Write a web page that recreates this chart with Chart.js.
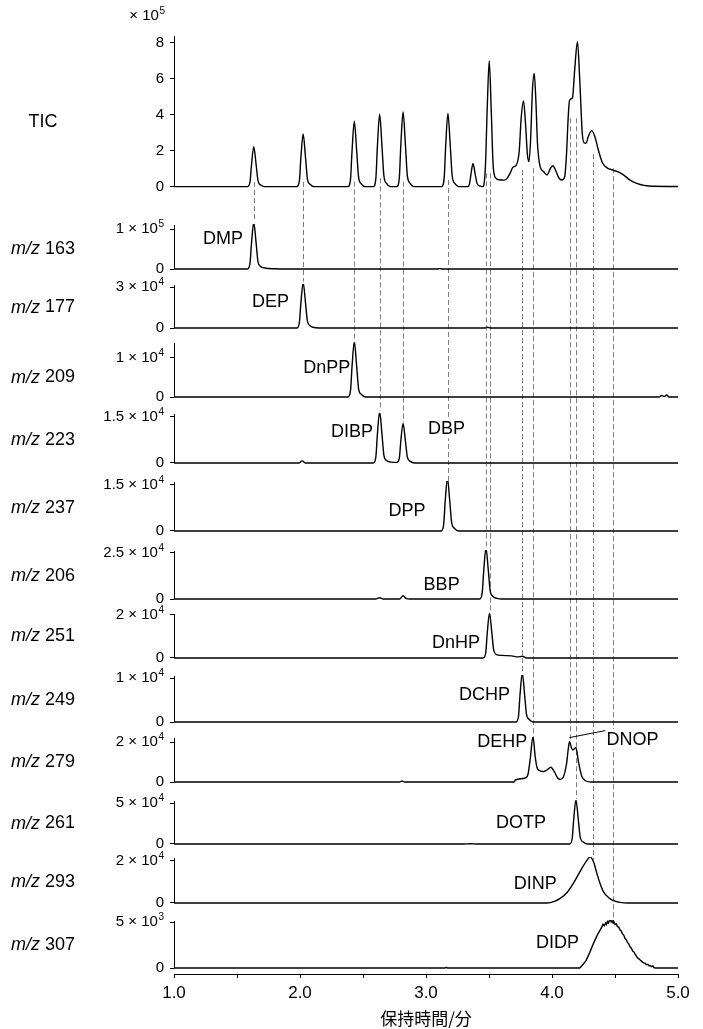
<!DOCTYPE html>
<html>
<head>
<meta charset="utf-8">
<title>クロマトグラム</title>
<script src="https://cdn.jsdelivr.net/npm/chart.js@4.4.1/dist/chart.umd.min.js"></script>
<style>
  html, body { margin: 0; padding: 0; background: #fff; }
  #wrap { position: relative; width: 703px; height: 1029px; }
</style>
</head>
<body>
<div id="wrap"><canvas id="chrom"></canvas></div>
<script>
/* traces: [retention time (min), intensity] */

// TIC
var tic = [[1.0,0.02e5],
  [1.583,0.02e5],[1.603,0.27e5],[1.615,1.23e5],[1.633,2.24e5],[1.652,1.23e5],[1.667,0.34e5],[1.688,0.11e5],[1.718,0.02e5],
  [1.975,0.02e5],[1.995,0.35e5],[2.007,1.62e5],[2.025,2.94e5],[2.044,1.62e5],[2.059,0.44e5],[2.08,0.15e5],[2.11,0.02e5],
  [2.381,0.02e5],[2.401,0.44e5],[2.413,2.0e5],[2.431,3.65e5],[2.45,2.0e5],[2.465,0.55e5],[2.486,0.18e5],[2.516,0.02e5],
  [2.582,0.02e5],[2.602,0.48e5],[2.614,2.22e5],[2.632,4.04e5],[2.651,2.22e5],[2.666,0.61e5],[2.687,0.2e5],[2.717,0.02e5],
  [2.768,0.02e5],[2.788,0.5e5],[2.8,2.29e5],[2.818,4.17e5],[2.837,2.29e5],[2.852,0.63e5],[2.873,0.21e5],[2.903,0.02e5],
  [3.124,0.02e5],[3.144,0.49e5],[3.156,2.25e5],[3.174,4.09e5],[3.193,2.25e5],[3.208,0.61e5],[3.229,0.2e5],[3.259,0.02e5],
  [3.33,0.02e5],[3.345,0.16e5],[3.357,0.72e5],[3.373,1.31e5],[3.39,0.72e5],[3.405,0.2e5],[3.425,0.06e5],[3.45,0.02e5],
  [3.458,0.08e5],[3.472,1.2e5],[3.486,4.4e5],[3.502,7.02e5],[3.518,4.2e5],[3.533,1.2e5],[3.553,0.5e5],[3.58,0.4e5],[3.62,0.38e5],[3.64,0.45e5],
  [3.67,0.8e5],[3.69,1.1e5],[3.715,1.2e5],[3.74,2.0e5],[3.755,3.8e5],[3.774,4.78e5],[3.79,3.5e5],[3.805,1.8e5],[3.817,1.41e5],
  [3.83,2.6e5],[3.845,5.4e5],[3.859,6.31e5],[3.872,4.8e5],[3.885,2.4e5],[3.906,1.13e5],[3.935,0.85e5],[3.96,0.67e5],
  [3.985,1.0e5],[4.007,1.18e5],[4.03,0.9e5],[4.055,0.5e5],[4.078,0.39e5],[4.1,0.55e5],[4.115,1.8e5],[4.128,3.8e5],[4.139,4.8e5],
  [4.163,4.98e5],[4.18,6.5e5],[4.202,8.07e5],[4.22,6.0e5],[4.24,3.0e5],[4.255,2.45e5],[4.27,2.43e5],[4.29,2.85e5],[4.316,3.13e5],
  [4.34,2.8e5],[4.37,2.0e5],[4.4,1.35e5],[4.44,1.05e5],[4.483,0.94e5],[4.53,0.82e5],[4.567,0.67e5],[4.62,0.38e5],[4.673,0.2e5],
  [4.73,0.09e5],[4.8,0.04e5],[5.0,0.03e5]];

var mz163 = [[1.0,0],[1.583,0],[1.603,0.14e5],[1.615,0.64e5],[1.633,1.16e5],[1.652,0.64e5],[1.667,0.17e5],[1.688,0.06e5],
  [1.72,0.025e5],[1.8,0.005e5],[1.9,0],[3.09,0],[3.11,0.01e5],[3.13,0],[5.0,0]];

var mz177 = [[1.0,0],[1.975,0],[1.995,0.4e4],[2.007,1.82e4],[2.025,3.31e4],[2.044,1.82e4],[2.059,0.5e4],[2.08,0.17e4],
  [2.11,0.04e4],[2.2,0],[3.47,0],[3.49,0.06e4],[3.51,0],[5.0,0]];

var mz209 = [[1.0,0],[2.381,0],[2.401,0.17e4],[2.413,0.78e4],[2.431,1.42e4],[2.45,0.78e4],[2.465,0.21e4],[2.486,0.07e4],
  [2.52,0],[4.85,0],[4.87,0.04e4],[4.89,0.01e4],[4.91,0.05e4],[4.93,0],[5.0,0]];

var mz223 = [[1.0,0],[1.99,0],[2.017,0.07e4],[2.045,0],[2.582,0],[2.602,0.2e4],[2.614,0.92e4],[2.632,1.67e4],[2.651,0.92e4],
  [2.666,0.25e4],[2.687,0.08e4],[2.72,0.03e4],[2.768,0.02e4],[2.788,0.15e4],[2.8,0.71e4],[2.818,1.29e4],[2.837,0.71e4],
  [2.852,0.19e4],[2.873,0.06e4],[2.91,0],[5.0,0]];

var mz237 = [[1.0,0],[3.12,0],[3.14,0.21e4],[3.152,0.95e4],[3.17,1.72e4],[3.189,0.95e4],[3.204,0.26e4],[3.225,0.09e4],
  [3.26,0],[5.0,0]];

var mz206 = [[1.0,0],[2.6,0],[2.632,0.07e4],[2.66,0],[2.79,0],[2.818,0.18e4],[2.845,0.02e4],[2.87,0],[3.426,0],[3.446,0.33e4],
  [3.458,1.52e4],[3.476,2.76e4],[3.495,1.52e4],[3.51,0.41e4],[3.531,0.14e4],[3.565,0.03e4],[3.6,0],[5.0,0]];

var mz251 = [[1.0,0],[3.454,0],[3.474,0.25e4],[3.486,1.14e4],[3.504,2.08e4],[3.523,1.14e4],[3.538,0.35e4],[3.56,0.16e4],
  [3.6,0.12e4],[3.68,0.1e4],[3.73,0.05e4],[3.765,0.08e4],[3.8,0],[5.0,0]];

var mz249 = [[1.0,0],[3.714,0],[3.734,0.13e4],[3.746,0.61e4],[3.764,1.11e4],[3.783,0.61e4],[3.798,0.17e4],[3.819,0.06e4],
  [3.85,0],[5.0,0]];

var mz279 = [[1.0,0],[2.79,0],[2.81,0.05e4],[2.83,0],[3.7,0],[3.708,0.1e4],[3.787,0.2e4],[3.81,0.4e4],[3.828,1.2e4],[3.849,2.27e4],
  [3.866,1.3e4],[3.88,0.75e4],[3.893,0.6e4],[3.933,0.52e4],[3.96,0.6e4],[3.991,0.74e4],[4.02,0.5e4],[4.045,0.2e4],[4.065,0.13e4],
  [4.09,0.25e4],[4.115,0.9e4],[4.13,1.7e4],[4.139,2.02e4],[4.155,1.7e4],[4.166,1.6e4],[4.19,1.72e4],[4.21,1.0e4],[4.237,0.27e4],
  [4.27,0.05e4],[4.31,0],[5.0,0]];

var mz261 = [[1.0,0],[3.3,0],[3.35,0.02e4],[3.4,0],[4.14,0],[4.16,0.64e4],[4.172,2.95e4],[4.19,5.37e4],[4.209,2.95e4],
  [4.224,0.81e4],[4.245,0.27e4],[4.28,0],[5.0,0]];

var mz293 = [[1.0,0],[3.96,0],[4.02,0.08e4],[4.065,0.22e4],[4.12,0.5e4],[4.17,0.94e4],[4.237,1.65e4],[4.28,2.05e4],[4.303,2.2e4],
  [4.33,1.95e4],[4.356,1.41e4],[4.38,0.95e4],[4.408,0.54e4],[4.45,0.25e4],[4.488,0.11e4],[4.54,0.03e4],[4.6,0],[5.0,0]];

var mz307 = [[1.0,0],[3.15,0],[3.161,0.07e3],[3.17,0],[4.22,0],[4.237,0.25e3],[4.27,0.8e3],[4.3,1.7e3],[4.329,2.68e3],
  [4.36,3.6e3],[4.385,4.2e3],[4.395,4.45e3],[4.405,4.75e3],[4.415,4.6e3],[4.425,4.9e3],[4.432,4.75e3],[4.44,5.05e3],
  [4.447,4.9e3],[4.455,5.15e3],[4.462,5.25e3],[4.47,5.0e3],[4.477,5.15e3],[4.485,4.9e3],[4.492,5.0e3],[4.5,4.75e3],
  [4.51,4.8e3],[4.52,4.5e3],[4.53,4.45e3],[4.541,4.13e3],[4.55,4.0e3],[4.56,3.7e3],[4.57,3.55e3],[4.58,3.2e3],[4.59,3.05e3],
  [4.6,2.75e3],[4.61,2.6e3],[4.62,2.3e3],[4.63,2.15e3],[4.64,1.85e3],[4.65,1.75e3],[4.66,1.5e3],[4.67,1.3e3],[4.68,1.1e3],
  [4.69,1.0e3],[4.7,0.87e3],[4.71,0.75e3],[4.72,0.62e3],[4.73,0.55e3],[4.74,0.5e3],[4.75,0.35e3],[4.76,0.4e3],[4.77,0.25e3],
  [4.78,0.28e3],[4.79,0.15e3],[4.8,0.22e3],[4.81,0.05e3],[4.82,0],[5.0,0]];

// panels top to bottom
var panelNames = ["TIC", "163", "177", "209", "223", "237", "206", "251", "249", "279", "261", "293", "307"];
var traces = [tic, mz163, mz177, mz209, mz223, mz237, mz206, mz251, mz249, mz279, mz261, mz293, mz307];
var topTicks = [8e5, 1e5, 3e4, 1e4, 1.5e4, 1.5e4, 2.5e4, 2e4, 1e4, 2e4, 5e4, 2e4, 5e3];
var ticTicks = [0, 2e5, 4e5, 6e5, 8e5];
var xTicks = [1.0, 2.0, 3.0, 4.0, 5.0];

// axis ranges and heights of each strip
var axisMax = [8.444e5, 1.125e5, 3.22e4, 1.41e4, 1.63e4, 1.63e4, 2.66e4, 2.09e4, 1.07e4, 2.25e4, 5.37e4, 2.19e4, 5.22e3];
var axisMin = [-2.056e5, -0.375e5, -1.02e4, -0.41e4, -0.587e4, -0.62e4, -0.76e4, -0.79e4, -0.34e4, -0.9e4, -1.59e4, -0.81e4, -0.65e3];
var stripHeight = [189, 60, 58, 71, 68, 69, 63, 62, 62, 63, 57, 63, 54];

// compound names beside the peaks
var peakLabels = [
  {text: "DMP", panel: 1, t: 1.389, v: 0.78e5},
  {text: "DEP", panel: 2, t: 1.765, v: 1.98e4},
  {text: "DnPP", panel: 3, t: 2.212, v: 0.76e4},
  {text: "DIBP", panel: 4, t: 2.413, v: 1.05e4},
  {text: "DBP", panel: 4, t: 3.163, v: 1.13e4},
  {text: "DPP", panel: 5, t: 2.849, v: 0.68e4},
  {text: "BBP", panel: 6, t: 3.124, v: 0.82e4},
  {text: "DnHP", panel: 7, t: 3.239, v: 0.76e4},
  {text: "DCHP", panel: 8, t: 3.464, v: 0.64e4},
  {text: "DEHP", panel: 9, t: 3.605, v: 2.05e4},
  {text: "DNOP", panel: 9, t: 4.639, v: 2.15e4},
  {text: "DOTP", panel: 10, t: 3.754, v: 2.65e4},
  {text: "DINP", panel: 11, t: 3.867, v: 0.97e4},
  {text: "DIDP", panel: 12, t: 4.043, v: 2.86e3}
];

// dashed guides: from the TIC down to the peak in a strip
var guides = [
  {t: 1.633, from: 0.28e5, panel: 1},
  {t: 2.025, from: 0.28e5, panel: 2},
  {t: 2.431, from: 0.3e5, panel: 3},
  {t: 2.632, from: 0.48e5, panel: 4},
  {t: 2.818, from: 0.3e5, panel: 4},
  {t: 3.174, from: 0.39e5, panel: 5},
  {t: 3.476, from: 0.76e5, panel: 6},
  {t: 3.504, from: 0.76e5, panel: 7},
  {t: 3.764, from: 0.94e5, panel: 8},
  {t: 3.853, from: 1.04e5, panel: 9},
  {t: 4.144, from: 3.82e5, panel: 9},
  {t: 4.19, from: 3.82e5, panel: 10},
  {t: 4.329, from: 1.83e5, panel: 11},
  {t: 4.483, from: 1.04e5, panel: 12}
];

// leader line for DNOP
var dnopLeader = {panel: 9, from: [4.139, 2.22e4], to: [4.422, 2.57e4]};

var FONT = "'Liberation Sans', Arial, sans-serif";

function valueAt(data, t) {
  for (var i = 1; i < data.length; i++) {
    if (data[i][0] >= t) {
      var a = data[i - 1], b = data[i];
      return a[1] + (b[1] - a[1]) * (t - a[0]) / (b[0] - a[0]);
    }
  }
  return 0;
}

// "m × 10" with a raised exponent, right edge at xr
function drawSci(ctx, mant, exp, xr, y) {
  ctx.textBaseline = "middle";
  ctx.textAlign = "left";
  ctx.font = "10px " + FONT;
  var we = ctx.measureText(exp).width;
  ctx.fillText(exp, xr - we, y - 5);
  ctx.font = "15px " + FONT;
  ctx.textAlign = "right";
  ctx.fillText((mant === "" ? "" : mant + " ") + "\u00d7 10", xr - we - 0.5, y);
}

var scales = {
  x: {
    type: "linear", min: 1, max: 5,
    afterBuildTicks: function (s) {
      var tk = [];
      for (var i = 0; i < xTicks.length; i++) {
        tk.push({value: xTicks[i]});
        if (i < xTicks.length - 1) tk.push({value: xTicks[i] + 0.5});
      }
      s.ticks = tk;
    },
    afterFit: function (s) { s.height = 55; },
    ticks: {
      autoSkip: false, maxRotation: 0, padding: 5, color: "#000",
      font: {size: 17, family: FONT},
      callback: function (v) { return Number.isInteger(v) ? v.toFixed(1) : ""; }
    },
    grid: {drawOnChartArea: false, drawTicks: true, tickLength: 4, color: "#000"},
    border: {display: true, color: "#000", width: 1},
    title: {
      display: true, text: "保持時間/分", color: "#000",
      font: {size: 17, family: "'Noto Sans CJK JP', sans-serif"},
      padding: {top: 0, bottom: 0}
    }
  }
};

panelNames.forEach(function (name, i) {
  scales["y" + i] = {
    type: "linear", position: "left", stack: "strips",
    stackWeight: stripHeight[i], weight: 20 - i,
    min: axisMin[i], max: axisMax[i],
    afterBuildTicks: function (s) {
      var vals = i === 0 ? ticTicks : [0, topTicks[i]];
      s.ticks = vals.map(function (v) { return {value: v}; });
    },
    afterFit: function (s) { s.width = 174; },
    ticks: {display: false},
    grid: {drawOnChartArea: false, drawTicks: true, tickLength: 4, color: "#000"},
    border: {display: false}
  };
});

var datasets = traces.map(function (tr, i) {
  return {
    label: panelNames[i],
    data: tr,
    yAxisID: "y" + i,
    borderColor: "#000",
    borderWidth: 1.4,
    pointRadius: 0,
    fill: false,
    cubicInterpolationMode: i === 12 ? "default" : "monotone",
    tension: 0
  };
});

// guides and peak names go under the traces
var underlay = {
  id: "underlay",
  beforeDatasetsDraw: function (chart) {
    var ctx = chart.ctx, x = chart.scales.x;
    ctx.save();
    ctx.strokeStyle = "#7f7f7f";
    ctx.lineWidth = 1;
    ctx.setLineDash([5, 3]);
    guides.forEach(function (g) {
      var px = Math.round(x.getPixelForValue(g.t)) + 0.5;
      var ys = chart.scales.y0.getPixelForValue(g.from);
      var ye = chart.scales["y" + g.panel].getPixelForValue(valueAt(traces[g.panel], g.t)) - 1;
      ctx.beginPath();
      ctx.moveTo(px, ys);
      ctx.lineTo(px, ye);
      ctx.stroke();
    });
    ctx.setLineDash([]);
    ctx.font = "18px " + FONT;
    ctx.textAlign = "center";
    ctx.textBaseline = "middle";
    peakLabels.forEach(function (l) {
      var px = x.getPixelForValue(l.t);
      var py = chart.scales["y" + l.panel].getPixelForValue(l.v);
      var w = ctx.measureText(l.text).width;
      ctx.fillStyle = "#fff";
      ctx.fillRect(px - w / 2 - 1, py - 10, w + 2, 20);
      ctx.fillStyle = "#000";
      ctx.fillText(l.text, px, py + 1);
    });
    ctx.restore();
  },
  afterDatasetsDraw: function (chart) {
    var ctx = chart.ctx, x = chart.scales.x;
    ctx.save();
    // vertical axis of each strip, from its top down to zero
    ctx.strokeStyle = "#000";
    ctx.lineWidth = 1;
    panelNames.forEach(function (n, i) {
      var s = chart.scales["y" + i];
      var ax = Math.round(chart.chartArea.left) + 0.5;
      ctx.beginPath();
      ctx.moveTo(ax, s.top + 1);
      ctx.lineTo(ax, s.getPixelForValue(0));
      ctx.stroke();
    });
    // DNOP leader
    var ys = chart.scales["y" + dnopLeader.panel];
    ctx.beginPath();
    ctx.moveTo(x.getPixelForValue(dnopLeader.from[0]), ys.getPixelForValue(dnopLeader.from[1]));
    ctx.lineTo(x.getPixelForValue(dnopLeader.to[0]), ys.getPixelForValue(dnopLeader.to[1]));
    ctx.stroke();
    ctx.restore();
  },
  afterDraw: function (chart) {
    var ctx = chart.ctx;
    var xr = chart.chartArea.left - 10;
    ctx.save();
    ctx.fillStyle = "#000";
    ctx.textBaseline = "middle";
    panelNames.forEach(function (name, i) {
      var s = chart.scales["y" + i];
      // tick labels
      if (i === 0) {
        ctx.font = "15px " + FONT;
        ctx.textAlign = "right";
        ticTicks.forEach(function (v) {
          ctx.fillText(String(v / 1e5), xr, s.getPixelForValue(v));
        });
      } else {
        ctx.font = "15px " + FONT;
        ctx.textAlign = "right";
        ctx.fillText("0", xr, s.getPixelForValue(0));
        var e = Math.floor(Math.log10(topTicks[i]) + 1e-9);
        var m = Math.round(topTicks[i] / Math.pow(10, e) * 10) / 10;
        drawSci(ctx, String(m), String(e), xr, s.getPixelForValue(topTicks[i]));
      }
      // strip names on the left
      var py = i === 0 ? s.getPixelForValue(3.6e5) : s.getPixelForValue(topTicks[i] / 2);
      var cx = 43;
      if (i === 0) {
        ctx.font = "18px " + FONT;
        ctx.textAlign = "center";
        ctx.fillText(name, cx, py);
      } else {
        ctx.font = "italic 18px " + FONT;
        var w1 = ctx.measureText("m/z").width;
        ctx.font = "18px " + FONT;
        var w2 = ctx.measureText(" " + name).width;
        var left = cx - (w1 + w2) / 2;
        ctx.textAlign = "left";
        ctx.font = "italic 18px " + FONT;
        ctx.fillText("m/z", left, py);
        ctx.font = "18px " + FONT;
        ctx.fillText(" " + name, left + w1, py);
      }
    });
    // multiplier above the TIC axis
    drawSci(ctx, "", "5", xr + 1, chart.scales.y0.top - 19);
    ctx.restore();
  }
};

Chart.defaults.font.family = FONT;
Chart.defaults.color = "#000";

new Chart(document.getElementById("chrom"), {
  type: "line",
  data: {datasets: datasets},
  options: {
    responsive: true,
    maintainAspectRatio: false,
    animation: false,
    layout: {padding: {top: 35, right: 25, left: 0, bottom: 0}},
    plugins: {legend: {display: false}, tooltip: {enabled: false}},
    scales: scales
  },
  plugins: [underlay]
});
</script>
</body>
</html>
